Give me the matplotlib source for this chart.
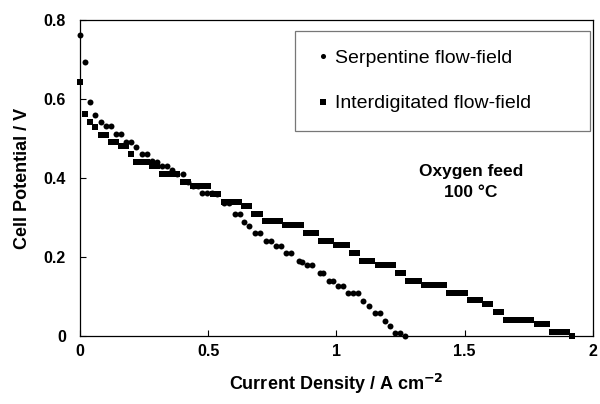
import matplotlib
matplotlib.use('Agg')
import matplotlib.pyplot as plt

plt.rcParams['font.family'] = ['Liberation Sans', 'DejaVu Sans']

# Serpentine flow-field (circles)
serp_j = [0.0, 0.018, 0.039, 0.06, 0.081, 0.10, 0.12, 0.14, 0.16, 0.18,
          0.20, 0.22, 0.24, 0.26, 0.28, 0.30, 0.32, 0.34, 0.36, 0.38,
          0.40, 0.42, 0.44, 0.46, 0.477, 0.496, 0.516, 0.535, 0.56, 0.58,
          0.605, 0.625, 0.64, 0.66, 0.684, 0.703, 0.727, 0.745, 0.766, 0.784,
          0.805, 0.824, 0.852, 0.866, 0.886, 0.905, 0.935, 0.948, 0.97, 0.987,
          1.006, 1.026, 1.046, 1.065, 1.085, 1.105, 1.126, 1.152, 1.168, 1.188,
          1.207, 1.23, 1.246, 1.267]
serp_v = [0.762, 0.693, 0.592, 0.56, 0.541, 0.531, 0.531, 0.512, 0.512, 0.492,
          0.492, 0.479, 0.461, 0.461, 0.443, 0.44, 0.431, 0.431, 0.42, 0.41,
          0.41, 0.39, 0.38, 0.38, 0.361, 0.361, 0.361, 0.36, 0.337, 0.337,
          0.309, 0.309, 0.289, 0.279, 0.26, 0.26, 0.24, 0.24, 0.229, 0.229,
          0.209, 0.209, 0.19, 0.188, 0.18, 0.18, 0.159, 0.159, 0.139, 0.139,
          0.127, 0.127, 0.108, 0.108, 0.108, 0.089, 0.077, 0.059, 0.059, 0.038,
          0.026, 0.008, 0.008, 0.0]

# Interdigitated flow-field (squares)
inter_j = [0.00, 0.02, 0.04, 0.06, 0.08, 0.10, 0.12, 0.14, 0.16, 0.18,
           0.20, 0.22, 0.24, 0.26, 0.28, 0.30, 0.32, 0.34, 0.36, 0.38,
           0.40, 0.42, 0.44, 0.46, 0.48, 0.50, 0.52, 0.54, 0.56, 0.58,
           0.60, 0.62, 0.64, 0.66, 0.68, 0.70, 0.72, 0.74, 0.76, 0.78,
           0.80, 0.82, 0.84, 0.86, 0.88, 0.90, 0.92, 0.94, 0.96, 0.98,
           1.00, 1.02, 1.04, 1.06, 1.08, 1.10, 1.12, 1.14, 1.16, 1.18,
           1.20, 1.22, 1.24, 1.26, 1.28, 1.30, 1.32, 1.34, 1.36, 1.38,
           1.40, 1.42, 1.44, 1.46, 1.48, 1.50, 1.52, 1.54, 1.56, 1.58,
           1.60, 1.62, 1.64, 1.66, 1.68, 1.70, 1.72, 1.74, 1.76, 1.78,
           1.80, 1.82, 1.84, 1.86, 1.88, 1.90, 1.92]
inter_v = [0.642, 0.561, 0.541, 0.53, 0.51, 0.51, 0.491, 0.491, 0.48, 0.48,
           0.461, 0.44, 0.44, 0.44, 0.43, 0.43, 0.41, 0.41, 0.41, 0.41,
           0.39, 0.39, 0.38, 0.38, 0.38, 0.38, 0.36, 0.36, 0.34, 0.34,
           0.34, 0.34, 0.33, 0.33, 0.31, 0.31, 0.29, 0.29, 0.29, 0.29,
           0.28, 0.28, 0.28, 0.28, 0.26, 0.26, 0.26, 0.24, 0.24, 0.24,
           0.23, 0.23, 0.23, 0.21, 0.21, 0.19, 0.19, 0.19, 0.18, 0.18,
           0.18, 0.18, 0.16, 0.16, 0.14, 0.14, 0.14, 0.13, 0.13, 0.13,
           0.13, 0.13, 0.11, 0.11, 0.11, 0.11, 0.09, 0.09, 0.09, 0.08,
           0.08, 0.06, 0.06, 0.04, 0.04, 0.04, 0.04, 0.04, 0.04, 0.03,
           0.03, 0.03, 0.01, 0.01, 0.01, 0.01, 0.0]

fig = plt.figure(figsize=(6, 4.04), dpi=100)
ax = fig.add_axes([0.1333, 0.1683, 0.855, 0.782])

ax.plot(serp_j, serp_v, 'o', color='black', markersize=4.3, markeredgewidth=0,
        label='Serpentine flow-field', clip_on=False, zorder=3)
ax.plot(inter_j, inter_v, 's', color='black', markersize=4.6, markeredgewidth=0,
        label='Interdigitated flow-field', clip_on=False, zorder=3)

ax.set_xlim(0, 2)
ax.set_ylim(0, 0.8)
ax.set_xticks([0, 0.5, 1, 1.5, 2])
ax.set_xticklabels(['0', '0.5', '1', '1.5', '2'])
ax.set_yticks([0, 0.2, 0.4, 0.6, 0.8])
ax.set_yticklabels(['0', '0.2', '0.4', '0.6', '0.8'])
ax.tick_params(axis='both', direction='in', length=4, width=0.8, labelsize=11.5)
ax.tick_params(axis='y', pad=10)
ax.tick_params(axis='x', pad=6)
for lab in ax.get_xticklabels() + ax.get_yticklabels():
    lab.set_fontweight('bold')

ax.set_xlabel('Current Density / A cm$^{\\mathbf{-2}}$', fontsize=13,
              fontweight='bold', labelpad=9)
ax.set_ylabel('Cell Potential / V', fontsize=13, fontweight='bold', labelpad=9)

for s in ax.spines.values():
    s.set_linewidth(0.9)

leg = ax.legend(loc='center', bbox_to_anchor=(0.419, 0.648, 0.575, 0.32),
                mode='expand', borderaxespad=0, frameon=True, fancybox=False,
                fontsize=14, handlelength=1.0, handletextpad=0.1,
                labelspacing=1.45, borderpad=0.95, markerscale=0.85)
leg.get_frame().set_edgecolor('#555555')
leg.get_frame().set_linewidth(0.9)

ax.text(1.523, 0.39, 'Oxygen feed\n100 \u00b0C', ha='center', va='center',
        fontsize=12.5, fontweight='bold', linespacing=1.45)

fig.savefig('out.png', dpi=100)
